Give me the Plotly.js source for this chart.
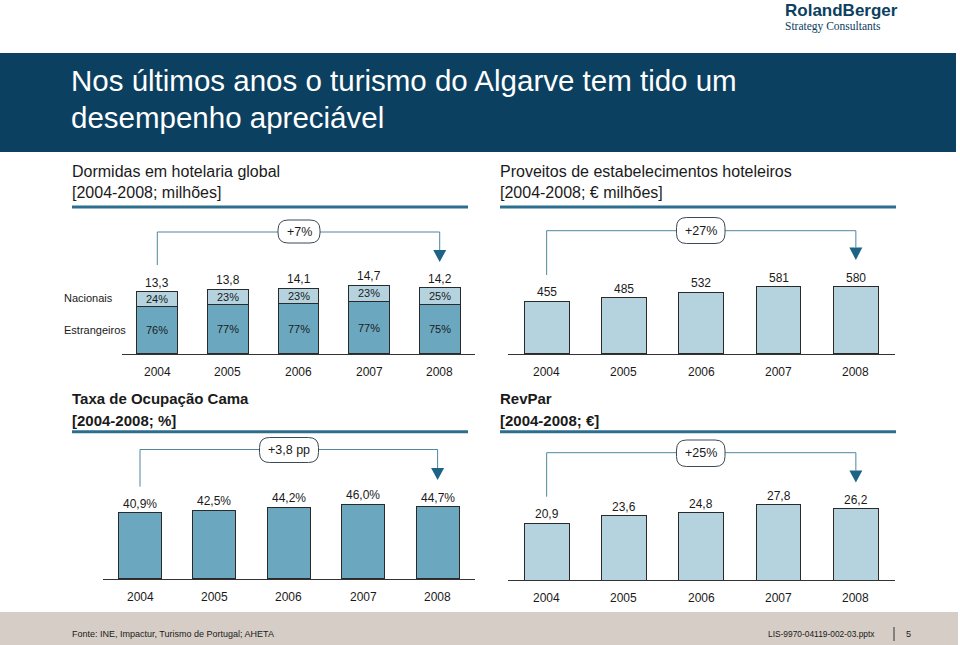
<!DOCTYPE html>
<html><head><meta charset="utf-8">
<script src="https://cdn.plot.ly/plotly-3.0.1.min.js"></script>
<style>html,body{margin:0;padding:0;background:#fff}#chart{width:960px;height:645px}</style>
</head><body><div id="chart"></div>
<script>
// ---------------- data ----------------
const years = ['2004','2005','2006','2007','2008'];
const dormidasTotal = [13.3, 13.8, 14.1, 14.7, 14.2];
const nacionaisPct = [24, 23, 23, 23, 25];
const estrangeirosPct = [76, 77, 77, 77, 75];
const proveitos = [455, 485, 532, 581, 580];
const ocupacao = [40.9, 42.5, 44.2, 46.0, 44.7];
const revpar = [20.9, 23.6, 24.8, 27.8, 26.2];
const growthLabels = ['+7%', '+27%', '+3,8 pp', '+25%'];
const panelTitles = [
  ['Dormidas em hotelaria global', '[2004-2008; milhões]'],
  ['Proveitos de estabelecimentos hoteleiros', '[2004-2008; € milhões]'],
  ['Taxa de Ocupação Cama', '[2004-2008; %]'],
  ['RevPar', '[2004-2008; €]']
];
const rowLabels = ['Nacionais', 'Estrangeiros'];

// ---------------- style / geometry ----------------
const W = 960, H = 645;
const px = x => x / W, py = y => 1 - y / H;
const FONT = '"Liberation Sans Narrow", "Arial Narrow", "Liberation Sans", Arial, sans-serif';
const DARK = '#1a1a1a';
const C_LIGHT = '#B4D3DF', C_DARK = '#6BA8BF', C_EDGE = '#2a2a2a';
const C_HEAD = '#0B4060', C_RULE = '#2D6E8E', C_BRACKET = '#4F879F', C_ARROW = '#1D6385';

const panels = [
  {x0:122,   x1:475,   base:354, top:260.4, range:[0,20],  hy:232,   lb:265,   at:250,   tip:262,   pill:[278,320,220,243], titleX:72,  titleY:[172,193], rule:207, bold:false},
  {x0:508,   x1:894.5, base:354, top:261.4, range:[0,800], hy:230.7, lb:275,   at:247.5, tip:260,   pill:[676.5,725,217.5,243.5], titleX:500, titleY:[172,193], rule:207, bold:false},
  {x0:102.8, x1:474.8, base:579, top:481.8, range:[0,60],  hy:449.5, lb:486.7, at:468,   tip:480,   pill:[259.5,318.5,437.5,462.5], titleX:72,  titleY:[398,420], rule:431.7, bold:true},
  {x0:508,   x1:894.5, base:580, top:485,   range:[0,35],  hy:452.7, lb:496.7, at:470.5, tip:482.5, pill:[676.5,725,440,466.5], titleX:500, titleY:[398,420], rule:431.7, bold:true}
];
const idx = years.map((_, k) => k);   // bar slots on each x axis
const cx = (p, i) => p.x0 + (i + 0.5) * (p.x1 - p.x0) / years.length;
const fmt1 = v => v.toFixed(1).replace('.', ',');

// ---------------- traces ----------------
const estVals = dormidasTotal.map((t, i) => t * estrangeirosPct[i] / 100);
const nacVals = dormidasTotal.map((t, i) => t * nacionaisPct[i] / 100);
function bar(y, xa, ya, color) {
  return {type:'bar', x:idx, y:y, xaxis:xa, yaxis:ya, width:0.58, hoverinfo:'skip',
    marker:{color:color, line:{color:C_EDGE, width:1}}};
}
const traces = [
  bar(estVals, 'x', 'y', C_DARK),
  bar(nacVals, 'x', 'y', C_LIGHT),
  bar(proveitos, 'x2', 'y2', C_LIGHT),
  bar(ocupacao, 'x3', 'y3', C_DARK),
  bar(revpar, 'x4', 'y4', C_LIGHT)
];

// ---------------- layout ----------------
const layout = {
  width: W, height: H, margin:{l:0, r:0, t:0, b:0},
  paper_bgcolor:'#fff', plot_bgcolor:'rgba(0,0,0,0)',
  showlegend:false, barmode:'stack',
  font:{family:FONT, color:DARK},
  shapes:[], annotations:[]
};
const axKey = (n, i) => n + (i === 0 ? '' : String(i + 1));
panels.forEach((p, i) => {
  layout[axKey('xaxis', i)] = {domain:[px(p.x0), px(p.x1)], anchor:axKey('y', i), type:'linear',
    range:[-0.5, years.length - 0.5], autorange:false,
    showline:true, linecolor:'#333', linewidth:1, ticks:'', showticklabels:false, showgrid:false, zeroline:false, fixedrange:true};
  layout[axKey('yaxis', i)] = {domain:[py(p.base), py(p.top)], anchor:axKey('x', i), type:'linear',
    range:p.range, autorange:false,
    showline:false, showticklabels:false, ticks:'', showgrid:false, zeroline:false, fixedrange:true};
});

const S = layout.shapes, A = layout.annotations;
function rect(x0, y0, x1, y1, fill) {
  S.push({type:'rect', xref:'paper', yref:'paper', x0:px(x0), x1:px(x1), y0:py(y0), y1:py(y1), fillcolor:fill, line:{width:0}, layer:'below'});
}
function line(x0, y0, x1, y1, color, w) {
  S.push({type:'line', xref:'paper', yref:'paper', x0:px(x0), x1:px(x1), y0:py(y0), y1:py(y1), line:{color:color, width:w}});
}
function text(t, x, y, size, opts) {
  const o = opts || {};
  A.push({text:t, xref:'paper', yref:'paper', x:px(x), y:py(y), showarrow:false, borderpad:0,
    xanchor:o.xanchor || 'left', yanchor:'middle',
    font:{size:size, color:o.color || DARK, family:o.family || FONT}});
}
function pill(x0, x1, y0, y1) {
  const r = 10;
  const P = (x, y) => px(x) + ',' + py(y);
  const d = 'M' + P(x0 + r, y0) + ' L' + P(x1 - r, y0) + ' Q' + P(x1, y0) + ' ' + P(x1, y0 + r) +
    ' L' + P(x1, y1 - r) + ' Q' + P(x1, y1) + ' ' + P(x1 - r, y1) + ' L' + P(x0 + r, y1) +
    ' Q' + P(x0, y1) + ' ' + P(x0, y1 - r) + ' L' + P(x0, y0 + r) + ' Q' + P(x0, y0) + ' ' + P(x0 + r, y0) + ' Z';
  S.push({type:'path', xref:'paper', yref:'paper', path:d, fillcolor:'#fff', line:{color:'#3b4a54', width:1}});
}

// header / footer
rect(0, 53, 956, 152, C_HEAD);
rect(0, 612, 958, 645, '#D6CDC6');
text('Nos últimos anos o turismo do Algarve tem tido um', 70, 80, 29.5, {color:'#fff'});
text('desempenho apreciável', 70, 118, 29.5, {color:'#fff'});
text('<b>RolandBerger</b>', 784, 11, 17, {color:C_HEAD});
text('Strategy Consultants', 784, 26, 11.5, {color:C_HEAD, family:'"Liberation Serif", serif'});
text('Fonte: INE, Impactur, Turismo de Portugal; AHETA', 71, 634, 9);
text('LIS-9970-04119-002-03.pptx', 767, 634, 8.4);
line(894, 627, 894, 641, '#333', 1);
text('5', 905, 634, 9);

// panels
panels.forEach((p, i) => {
  const ax = axKey('x', i);
  const wrap = s => p.bold ? '<b>' + s + '</b>' : s;
  const tsize = p.bold ? 15 : 16;
  text(wrap(panelTitles[i][0]), p.titleX - 1, p.titleY[0], tsize);
  text(wrap(panelTitles[i][1]), p.titleX - 1, p.titleY[1], tsize);
  line(p.titleX, p.rule, p.titleX + 396, p.rule, C_RULE, 3);
  // year labels under each slot
  years.forEach((yr, k) => A.push({text:yr, xref:ax, yref:'paper', x:k, y:py(p.base + 18), showarrow:false,
    xanchor:'center', yanchor:'middle', font:{size:12, color:DARK, family:FONT}}));
  // growth bracket
  const l = cx(p, 0), r = cx(p, years.length - 1);
  line(l, p.lb, l, p.hy, C_BRACKET, 1);
  line(l, p.hy, r, p.hy, C_BRACKET, 1);
  line(r, p.hy, r, p.at, C_BRACKET, 1);
  S.push({type:'path', xref:'paper', yref:'paper', fillcolor:C_ARROW, line:{width:0},
    path:'M' + px(r - 6.5) + ',' + py(p.at) + ' L' + px(r + 6.5) + ',' + py(p.at) + ' L' + px(r) + ',' + py(p.tip) + ' Z'});
  pill(p.pill[0], p.pill[1], p.pill[2], p.pill[3]);
  text(growthLabels[i], (p.pill[0] + p.pill[1]) / 2, (p.pill[2] + p.pill[3]) / 2, 12.5, {xanchor:'center'});
});

// value labels on top of bars
function valueLabels(vals, i, f) {
  vals.forEach((v, k) => A.push({text:f(v), xref:axKey('x', i), yref:axKey('y', i), x:k, y:v, yshift:9,
    showarrow:false, xanchor:'center', yanchor:'middle', font:{size:12, color:DARK, family:FONT}}));
}
valueLabels(dormidasTotal, 0, fmt1);
valueLabels(proveitos, 1, v => String(v));
valueLabels(ocupacao, 2, v => fmt1(v) + '%');
valueLabels(revpar, 3, fmt1);

// share labels inside stacked bars
idx.forEach(k => {
  A.push({text:estrangeirosPct[k] + '%', xref:'x', yref:'y', x:k, y:estVals[k] / 2, showarrow:false,
    xanchor:'center', yanchor:'middle', font:{size:11, color:DARK, family:FONT}});
  A.push({text:nacionaisPct[k] + '%', xref:'x', yref:'y', x:k, y:estVals[k] + nacVals[k] / 2, showarrow:false,
    xanchor:'center', yanchor:'middle', font:{size:11, color:DARK, family:FONT}});
});
text(rowLabels[0], 63, 298, 11);
text(rowLabels[1], 63, 330, 11);

Plotly.newPlot('chart', traces, layout, {staticPlot:true, displayModeBar:false});
</script></body></html>
